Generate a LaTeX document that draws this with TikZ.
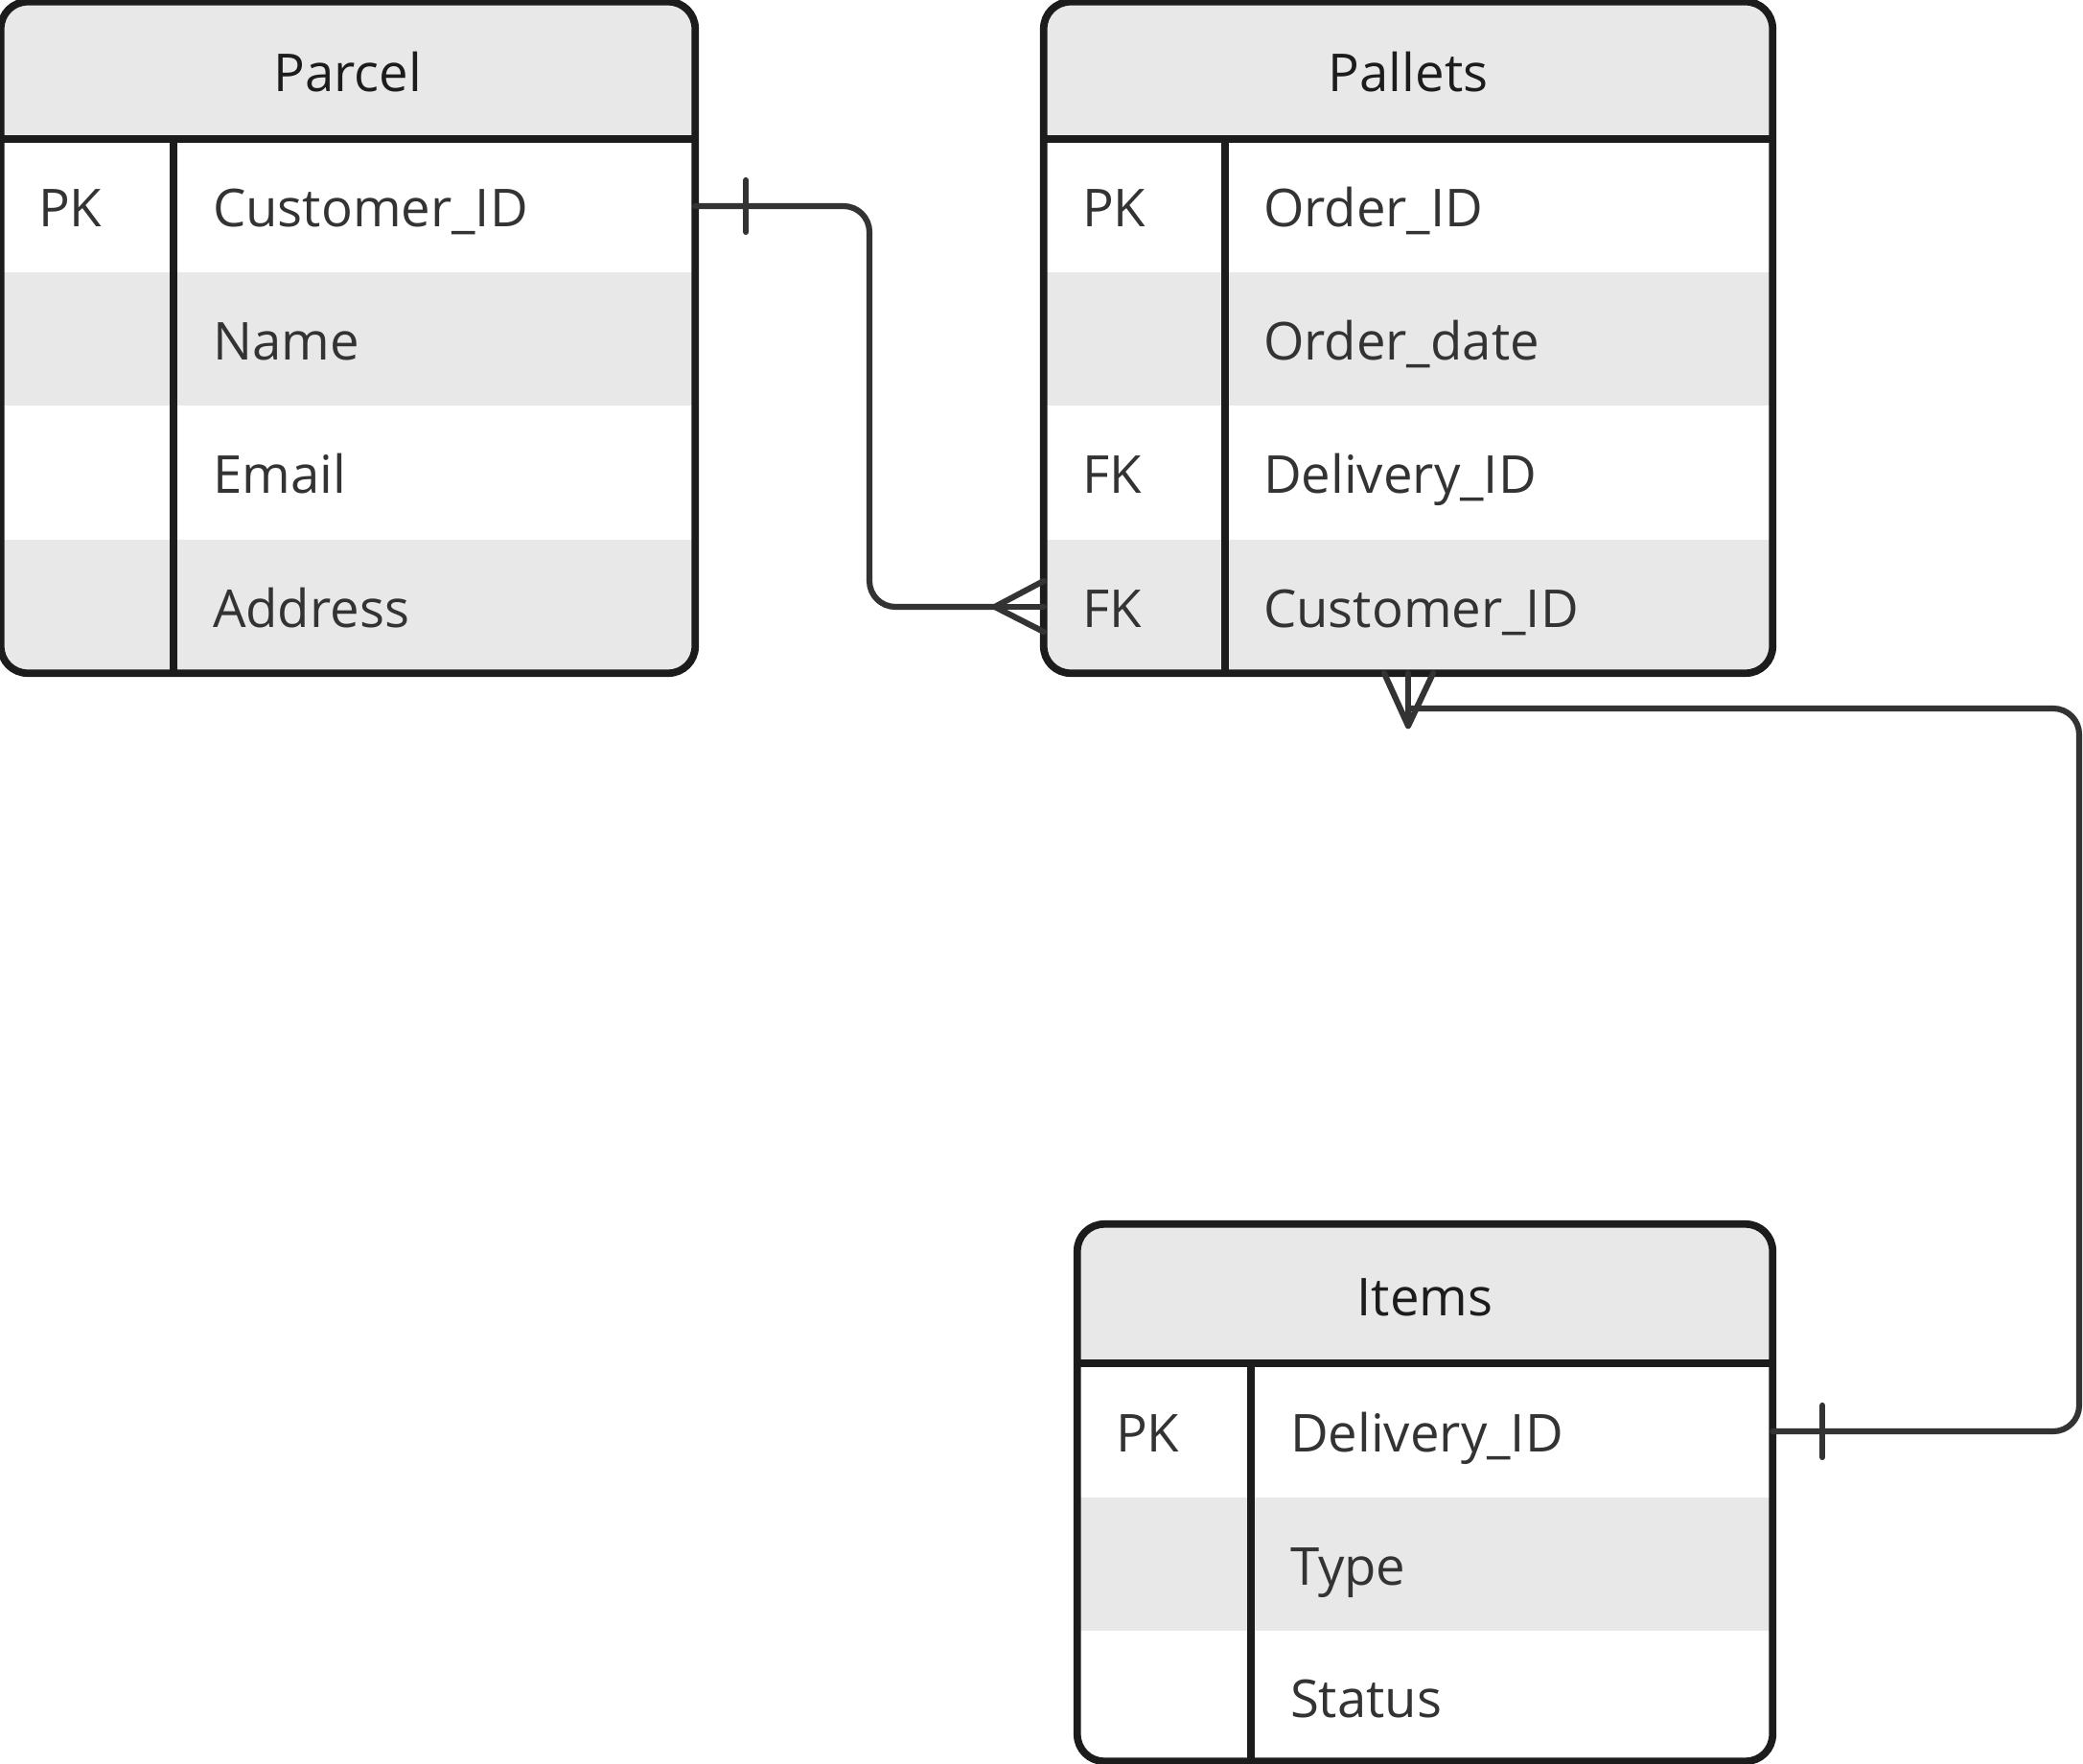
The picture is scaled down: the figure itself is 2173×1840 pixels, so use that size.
\documentclass[tikz,border=0pt]{standalone}
\usepackage{fontspec}
\setmainfont{Open Sans}
\usepackage{tikz}

\definecolor{rowgray}{HTML}{E8E8E8}
\definecolor{framedark}{HTML}{1C1C1C}
\definecolor{textdark}{HTML}{333333}

\begin{document}
\begin{tikzpicture}[x=0.01cm,y=-0.01cm,
	every node/.style={inner sep=0pt, outer sep=0pt, font=\fontsize{15.5}{18}\selectfont},
	field/.style={anchor=west, text=textdark, text height=11.07pt, text depth=0pt},
	title/.style={anchor=center, text=framedark, text height=11.07pt, text depth=0pt},
	frame/.style={draw=framedark, line width=2.2pt, rounded corners=0.28cm},
	rule/.style={draw=framedark, line width=2.2pt},
	rel/.style={draw=textdark, line width=1.75pt, line cap=round, line join=round}]
	\useasboundingbox (0,0) rectangle (2173,1840);
	
	% stripes
	\begin{scope}
		\clip[rounded corners=0.28cm] (1,2) rectangle (725,702);
		\fill[rowgray] (1,2) rectangle (725,145);
		\fill[rowgray] (1,284) rectangle (725,423);
		\fill[rowgray] (1,563) rectangle (725,702);
	\end{scope}
	\begin{scope}
		\clip[rounded corners=0.28cm] (1089,2) rectangle (1849,702);
		\fill[rowgray] (1089,2) rectangle (1849,145);
		\fill[rowgray] (1089,284) rectangle (1849,423);
		\fill[rowgray] (1089,563) rectangle (1849,702);
	\end{scope}
	\begin{scope}
		\clip[rounded corners=0.28cm] (1124,1277) rectangle (1849,1837);
		\fill[rowgray] (1124,1277) rectangle (1849,1422);
		\fill[rowgray] (1124,1562) rectangle (1849,1701);
	\end{scope}
	
	% tables
	\node[frame, minimum width=7.24cm, minimum height=7.00cm] (parcel) at (363,352) {};
	\node[frame, minimum width=7.60cm, minimum height=7.00cm] (pallets) at (1469,352) {};
	\node[frame, minimum width=7.25cm, minimum height=5.60cm] (items) at (1486.5,1557) {};
	
	\path[rule] (1,145) -- (725,145);
	\path[rule] (181,145) -- (181,702);
	\path[rule] (1089,145) -- (1849,145);
	\path[rule] (1278,145) -- (1278,702);
	\path[rule] (1124,1422) -- (1849,1422);
	\path[rule] (1305,1422) -- (1305,1837);
	
	% Parcel
	\node[title] (parcel-title) at (363,76) {Parcel};
	\node[field] (parcel-pk) at (40,217) {PK};
	\node[field] (parcel-cid) at (222,217) {Customer\_ID};
	\node[field] (parcel-name) at (222,356) {Name};
	\node[field] (parcel-email) at (222,495) {Email};
	\node[field] (parcel-addr) at (222,635) {Address};
	
	% Pallets
	\node[title] (pallets-title) at (1469,76) {Pallets};
	\node[field] (pallets-pk) at (1129,217) {PK};
	\node[field] (pallets-oid) at (1318,217) {Order\_ID};
	\node[field] (pallets-date) at (1318,356) {Order\_date};
	\node[field] (pallets-fk1) at (1129,495) {FK};
	\node[field] (pallets-did) at (1318,495) {Delivery\_ID};
	\node[field] (pallets-fk2) at (1129,635) {FK};
	\node[field] (pallets-cust) at (1318,635) {Customer\_ID};
	
	% Items
	\node[title] (items-title) at (1486.5,1353) {Items};
	\node[field] (items-pk) at (1164,1495) {PK};
	\node[field] (items-did) at (1346,1495) {Delivery\_ID};
	\node[field] (items-type) at (1346,1634) {Type};
	\node[field] (items-status) at (1346,1772) {Status};
	
	% Parcel -- Pallets
	\coordinate (jog) at (907,420);
	\path[rel, rounded corners=0.27cm] ([yshift=0.02cm]parcel.east |- parcel-cid.west) -| (jog) |- ([xshift=-0.51cm, yshift=0.02cm]pallets.west |- pallets-cust.west);
	\path[rel] ([xshift=0.53cm, yshift=0.29cm]parcel.east |- parcel-cid.west) -- ++(0,54);
	\path[rel] ([yshift=0.29cm]pallets.west |- pallets-cust.west) -- ([xshift=-0.51cm, yshift=0.02cm]pallets.west |- pallets-cust.west) -- ([yshift=-0.24cm]pallets.west |- pallets-cust.west);
	\path[rel] ([yshift=0.02cm]pallets.west |- pallets-cust.west) -- ([xshift=-0.51cm, yshift=0.02cm]pallets.west |- pallets-cust.west);
	
	% Items -- Pallets
	\coordinate (bend) at (2169,739);
	\path[rel, rounded corners=0.27cm] ([yshift=0.02cm]items.east |- items-did.west) -| (bend) -- (pallets.south |- bend);
	\path[rel] ([xshift=0.52cm, yshift=0.29cm]items.east |- items-did.west) -- ++(0,54);
	\path[rel] ([xshift=-0.25cm]pallets.south) -- ([yshift=-0.55cm]pallets.south) -- ([xshift=0.26cm]pallets.south);
	\path[rel] (pallets.south) -- ([yshift=-0.55cm]pallets.south);
\end{tikzpicture}
\end{document}
